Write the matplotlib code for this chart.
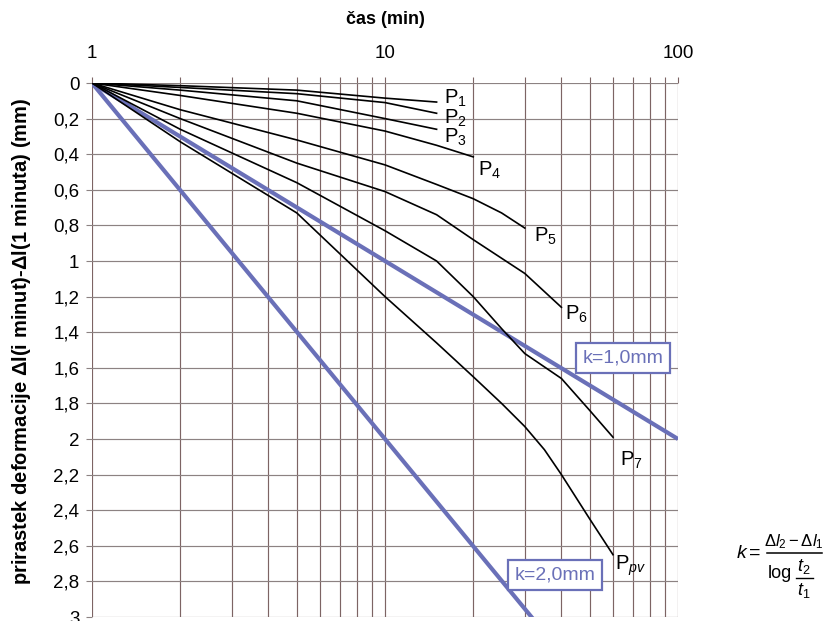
import matplotlib
matplotlib.use("Agg")
import numpy as np
import matplotlib.pyplot as plt
from matplotlib.lines import Line2D
from matplotlib.ticker import FixedLocator, NullFormatter

plt.rcParams["font.family"] = ["Liberation Sans", "DejaVu Sans"]
plt.rcParams["mathtext.fontset"] = "custom"
plt.rcParams["mathtext.rm"] = "Liberation Sans"
plt.rcParams["mathtext.it"] = "Liberation Sans:italic"
plt.rcParams["mathtext.bf"] = "Liberation Sans:bold"

# Settlement increments measured after the 1-minute reading (mm)
t_p1 = [1, 2, 5, 10, 15]
p1 = [0, 0.015, 0.04, 0.085, 0.107]
t_p2 = [1, 2, 5, 10, 15]
p2 = [0, 0.025, 0.06, 0.11, 0.17]
t_p3 = [1, 2, 5, 10, 15]
p3 = [0, 0.04, 0.10, 0.20, 0.26]
t_p4 = [1, 2, 5, 10, 15, 20]
p4 = [0, 0.07, 0.17, 0.27, 0.35, 0.415]
t_p5 = [1, 2, 5, 10, 15, 20, 25, 30]
p5 = [0, 0.15, 0.32, 0.46, 0.57, 0.65, 0.73, 0.815]
t_p6 = [1, 2, 5, 10, 15, 20, 30, 40]
p6 = [0, 0.20, 0.45, 0.61, 0.74, 0.88, 1.07, 1.26]
t_p7 = [1, 2, 5, 10, 15, 20, 25, 30, 40, 50, 60]
p7 = [0, 0.26, 0.56, 0.83, 1.00, 1.20, 1.38, 1.52, 1.66, 1.84, 1.99]
t_ppv = [1, 2, 5, 10, 15, 20, 25, 30, 35, 40, 50, 60]
ppv = [0, 0.33, 0.73, 1.20, 1.46, 1.65, 1.80, 1.93, 2.06, 2.20, 2.45, 2.65]

series_t = [t_p1, t_p2, t_p3, t_p4, t_p5, t_p6, t_p7, t_ppv]
series_y = [p1, p2, p3, p4, p5, p6, p7, ppv]
series_names = [r"P$_1$", r"P$_2$", r"P$_3$", r"P$_4$", r"P$_5$", r"P$_6$",
                r"P$_7$", r"P$_{pv}$"]
# label offsets in points relative to each curve end
label_offsets = [(5.5, 3), (5.5, -3.5), (5.5, -6), (3.5, -9.5), (6.5, -6),
                 (2.5, -5), (5, -16.5), (1.5, -8)]

# Reference creep lines k = (dl2 - dl1) / log(t2/t1)
k_values = [1.0, 2.0]
k_labels = ["k=1,0mm", "k=2,0mm"]
k_label_pos = [(64.9, 1.545), (38.0, 2.764)]

x_major = [1, 10, 100]
x_major_labels = ["1", "10", "100"]
y_ticks = [round(0.2 * i, 1) for i in range(16)]
y_tick_labels = [("%g" % v).replace(".", ",") for v in y_ticks]

BLUE = "#6a70b8"
GRID_V = "#7d6464"
GRID_H = "#8c8282"

W, H = 825, 621
fig = plt.figure(figsize=(W / 100, H / 100), dpi=100)
ax = fig.add_axes([92 / W, 1 - 617 / H, (678 - 92) / W, (617 - 83) / H])
ax.set_xscale("log")
ax.set_xlim(1, 100)
ax.set_ylim(3, 0)

for s in ax.spines.values():
    s.set_visible(False)

ax.xaxis.tick_top()
ax.xaxis.set_label_position("top")
ax.xaxis.set_major_locator(FixedLocator(x_major))
ax.set_xticklabels(x_major_labels)
minors = [m * d for d in (1, 10) for m in range(2, 10)]
ax.xaxis.set_minor_locator(FixedLocator(minors))
ax.xaxis.set_minor_formatter(NullFormatter())
ax.set_yticks(y_ticks)
ax.set_yticklabels(y_tick_labels)

ax.tick_params(axis="x", which="major", labelsize=13.5, length=4, pad=11,
               color=GRID_V, width=0.8)
ax.tick_params(axis="x", which="minor", length=4, color=GRID_V, width=0.8)
ax.tick_params(axis="y", labelsize=13.5, length=4, pad=5, color=GRID_H, width=0.8)

ax.grid(True, axis="x", which="both", color=GRID_V, lw=0.85)
ax.grid(True, axis="y", which="major", color=GRID_H, lw=0.85)
ax.set_axisbelow(True)

ax.set_xlabel("čas (min)", fontsize=13, fontweight="bold", va="center")
ax.xaxis.set_label_coords((385 - 92) / 586, (617 - 19) / 534)
ax.set_ylabel("prirastek deformacije $\\mathbf{\\Delta}$l(i minut)-$\\mathbf{\\Delta}$l(1 minuta) (mm)",
              fontsize=14.5, fontweight="bold", va="center")
ax.yaxis.set_label_coords((22 - 92) / 586, (617 - 341) / 534)

# k reference lines
t_line = [1, 100]
for k, lab, pos in zip(k_values, k_labels, k_label_pos):
    yl = [k * np.log10(t) for t in t_line]
    ax.plot(t_line, yl, color=BLUE, lw=3, solid_capstyle="butt", zorder=3)
    ax.text(pos[0], pos[1], lab, color=BLUE, fontsize=14, ha="center",
            va="center", zorder=6,
            bbox=dict(boxstyle="square,pad=0.33", fc="white", ec=BLUE, lw=1.6))

# measured curves
for tt, yy, name, off in zip(series_t, series_y, series_names, label_offsets):
    ax.plot(tt, yy, color="black", lw=1.2, zorder=4)
    ax.annotate(name, xy=(tt[-1], yy[-1]), xytext=off,
                textcoords="offset points", fontsize=14.5, ha="left",
                va="center", zorder=5)


# formula for k, placed in figure pixels
def fx(px):
    return px / W


def fy(py):
    return 1 - py / H


fig.text(fx(736), fy(553), r"$k=$", fontsize=14, ha="left", va="center")
fig.text(fx(794), fy(542), r"$\Delta l_2-\Delta l_1$", fontsize=12,
         ha="center", va="center")
fig.add_artist(Line2D([fx(767), fx(822)], [fy(553), fy(553)],
                      transform=fig.transFigure, color="black", lw=1.1))
fig.text(fx(768), fy(574), "log", fontsize=13, ha="left", va="center")
fig.text(fx(804), fy(567), r"$t_2$", fontsize=13, ha="center", va="center")
fig.add_artist(Line2D([fx(796), fx(813)], [fy(578), fy(578)],
                      transform=fig.transFigure, color="black", lw=1.0))
fig.text(fx(804), fy(590), r"$t_1$", fontsize=13, ha="center", va="center")

fig.savefig("out.png", dpi=100)
